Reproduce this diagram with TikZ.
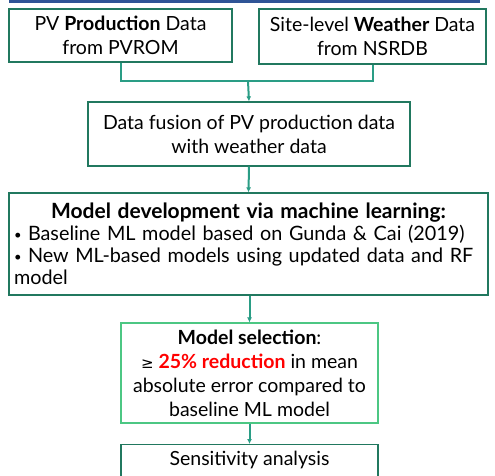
\documentclass[tikz,border=0pt]{standalone}
\usepackage{fontspec}
\setmainfont{Lato}
\usetikzlibrary{arrows.meta}
\definecolor{boxgreen}{HTML}{21785F}
\definecolor{linkgreen}{HTML}{2A9D85}
\definecolor{lightgreen}{HTML}{4CC783}
\definecolor{topblue}{HTML}{2F5496}
\definecolor{redtxt}{HTML}{FF0000}
\newcommand{\smbullet}{\makebox[8pt][l]{\raisebox{1pt}{\fontsize{13}{13}\selectfont\textbullet}}\hspace{6pt}}
\tikzset{
  stepbox/.style={draw=boxgreen, line width=1.2pt, fill=white, inner sep=0pt, align=center, font=\fontsize{19.5}{24}\selectfont},
  link/.style={draw=linkgreen, line width=2pt},
  arrowlink/.style={link, -{Latex[length=5pt,width=5pt]}},
}
\begin{document}
\begin{tikzpicture}[x=1pt,y=-1pt]
\useasboundingbox (0,0) rectangle (495,475);
\clip (0,0) rectangle (495,475);
\fill[topblue] (9,-5) rectangle (480,2.5);
\node[stepbox, minimum width=223pt, minimum height=53pt] (pv) at (120.5,35.5) {PV \textbf{Production} Data\\from PVROM};
\node[stepbox, minimum width=227pt, minimum height=55pt] (wx) at (372.5,36.5) {Site-level \textbf{Weather} Data\\from NSRDB};
\node[stepbox, minimum width=322pt, minimum height=64pt] (fus) at (249,134) {Data fusion of PV production data\\with weather data};
\node[stepbox, minimum width=479pt, minimum height=102pt, text width=469pt, align=left, font=\fontsize{19.8}{22}\selectfont] (dev) at (248.5,244)
 {\centerline{\fontsize{21}{22}\selectfont\bfseries Model development via machine learning:}
  \smbullet Baseline ML model based on Gunda \& Cai (2019)\\
  \smbullet New ML-based models using updated data and RF\\
  model};
\node[stepbox, draw=lightgreen, minimum width=257pt, minimum height=100pt] (sel) at (249.5,373)
 {\textbf{Model selection}:\\
  {\fontspec{DejaVu Sans}\fontsize{15}{24}\selectfont ≥} \textcolor{redtxt}{\textbf{25\% reduction}} in mean\\
  absolute error compared to\\
  baseline ML model};
\node[stepbox, anchor=north, minimum width=257pt, minimum height=50pt, text depth=24pt, text height=16pt] (sen) at (249.5,444) {Sensitivity analysis};
\coordinate (j) at (248,81);
\draw[link] (pv.south) |- (j) -| (wx.south);
\draw[arrowlink] (j) -- (fus.north);
\draw[arrowlink] (fus.south) -- (dev.north);
\draw[arrowlink] (dev.south -| sel.north) -- (sel.north);
\draw[arrowlink] (sel.south) -- (sen.north);
\end{tikzpicture}
\end{document}
